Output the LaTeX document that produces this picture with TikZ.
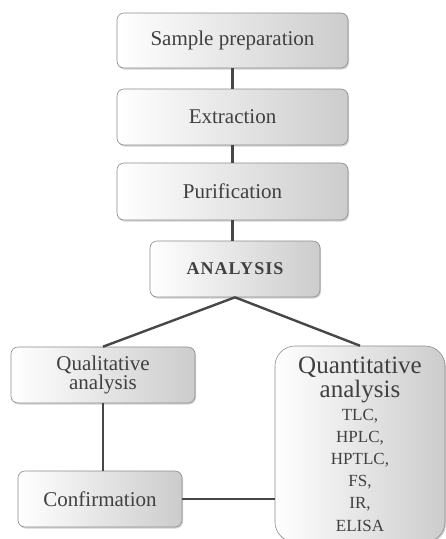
\documentclass[tikz,border=0pt]{standalone}
\usepackage{fontspec}
\setmainfont{Liberation Serif}
\newfontfamily\spacedbold[LetterSpace=6]{Liberation Serif Bold}
\usetikzlibrary{shadows}
\tikzset{
  stepbox/.style={draw=black!45, line width=0.6pt, rounded corners=7pt,
    left color=white, right color=black!20, text=black!75,
    drop shadow={opacity=0.35, shadow xshift=1pt, shadow yshift=-1.5pt},
    inner sep=2pt, align=center, font=\fontsize{21}{19.5}\selectfont},
  link/.style={draw=black!72, line width=2.4pt}
}
\begin{document}
\begin{tikzpicture}[x=1pt,y=-1pt]
\useasboundingbox (0,0) rectangle (446,539);
\node[stepbox, minimum width=231pt, minimum height=55pt] (sp) at (232.5,40.5) {Sample preparation};
\node[stepbox, minimum width=231pt, minimum height=56pt] (ex) at (232.5,117) {Extraction};
\node[stepbox, minimum width=231pt, minimum height=57pt] (pu) at (232.5,191.5) {Purification};
\node[stepbox, minimum width=170pt, minimum height=56pt, font=\fontsize{18}{18}\spacedbold] (an) at (235,269) {ANALYSIS};
\node[stepbox, minimum width=184pt, minimum height=56pt] (ql) at (103,375) {Qualitative\\analysis};
\node[stepbox, minimum width=164pt, minimum height=56pt] (cf) at (100,499) {Confirmation};
\node[stepbox, rounded corners=20pt, minimum width=170pt, minimum height=196pt, text width=164pt] (qn) at (360,444)
  {{\fontsize{25}{24.5}\selectfont Quantitative\\analysis\par}{\fontsize{17}{22.2}\selectfont TLC,\\HPLC,\\HPTLC,\\FS,\\IR,\\ELISA\par}};
\draw[link] (sp) -- (ex);
\draw[link] (ex) -- (pu);
\draw[link] (pu.south) -- (pu.south |- an.north);
\draw[link] (an.south) -- (ql.north);
\draw[link] (an.south) -- (qn.north);
\draw[link] (ql.south) -- (ql.south |- cf.north);
\draw[link] (cf.east) -- (cf.east -| qn.west);
\end{tikzpicture}
\end{document}
